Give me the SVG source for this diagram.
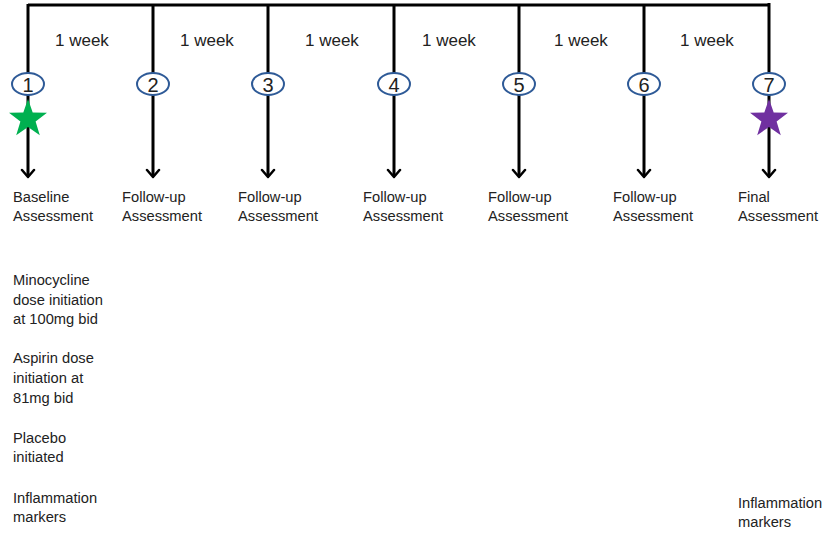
<svg xmlns="http://www.w3.org/2000/svg" width="822" height="535" viewBox="0 0 822 535">
<defs>
<style>
.ln{stroke:#000;stroke-width:3;fill:none}
.ah{stroke:#000;stroke-width:2.5;fill:none;stroke-linecap:round;stroke-linejoin:round}
.el{fill:#fff;stroke:#2E5A97;stroke-width:2}
.num{font-family:"Liberation Sans",Arial,sans-serif;font-size:20px;fill:#222;text-anchor:middle}
.wk{font-family:"Liberation Sans",Arial,sans-serif;font-size:17px;fill:#222}
.lb{font-family:"Liberation Sans",Arial,sans-serif;font-size:14.7px;fill:#222}
</style>
<polygon id="star" points="0,-20 4.7,-6.5 19,-6.2 7.6,2.5 11.8,16.2 0,8 -11.8,16.2 -7.6,2.5 -19,-6.2 -4.7,-6.5"/>
</defs>
<g id="connectors">
<path class="ln" d="M28,5 H769"/>
<path class="ln" d="M28,4 V176 M153,4 V176 M268,4 V176 M394,4 V176 M519,4 V176 M644,4 V176 M769,3 V176"/>
<path class="ah" d="M22,170 L28,177 L34,170 M147,170 L153,177 L159,170 M262,170 L268,177 L274,170 M388,170 L394,177 L400,170 M513,170 L519,177 L525,170 M638,170 L644,177 L650,170 M763,170 L769,177 L775,170"/>
</g>
<g id="weeks">
<text class="wk" x="55" y="46">1 week</text>
<text class="wk" x="180" y="46">1 week</text>
<text class="wk" x="305" y="46">1 week</text>
<text class="wk" x="422" y="46">1 week</text>
<text class="wk" x="554" y="46">1 week</text>
<text class="wk" x="680" y="46">1 week</text>
</g>
<g id="n1"><ellipse class="el" cx="28" cy="84" rx="16" ry="11"/><text class="num" x="28" y="92">1</text><use href="#star" x="28" y="119" fill="#00B050"/><text class="lb" x="13" y="202">Baseline</text><text class="lb" x="13" y="221">Assessment</text></g>
<g id="n2"><ellipse class="el" cx="153" cy="84" rx="16" ry="11"/><text class="num" x="153" y="92">2</text><text class="lb" x="122" y="202">Follow-up</text><text class="lb" x="122" y="221">Assessment</text></g>
<g id="n3"><ellipse class="el" cx="268" cy="84" rx="16" ry="11"/><text class="num" x="268" y="92">3</text><text class="lb" x="238" y="202">Follow-up</text><text class="lb" x="238" y="221">Assessment</text></g>
<g id="n4"><ellipse class="el" cx="394" cy="84" rx="16" ry="11"/><text class="num" x="394" y="92">4</text><text class="lb" x="363" y="202">Follow-up</text><text class="lb" x="363" y="221">Assessment</text></g>
<g id="n5"><ellipse class="el" cx="519" cy="84" rx="16" ry="11"/><text class="num" x="519" y="92">5</text><text class="lb" x="488" y="202">Follow-up</text><text class="lb" x="488" y="221">Assessment</text></g>
<g id="n6"><ellipse class="el" cx="644" cy="84" rx="16" ry="11"/><text class="num" x="644" y="92">6</text><text class="lb" x="613" y="202">Follow-up</text><text class="lb" x="613" y="221">Assessment</text></g>
<g id="n7"><ellipse class="el" cx="769" cy="84" rx="16" ry="11"/><text class="num" x="769" y="92">7</text><use href="#star" x="769" y="119" fill="#7030A0"/><text class="lb" x="738" y="202">Final</text><text class="lb" x="738" y="221">Assessment</text></g>
<g id="notes-left">
<text class="lb" x="13" y="285">Minocycline</text>
<text class="lb" x="13" y="305">dose initiation</text>
<text class="lb" x="13" y="324">at 100mg bid</text>
<text class="lb" x="13" y="363">Aspirin dose</text>
<text class="lb" x="13" y="383">initiation at</text>
<text class="lb" x="13" y="403">81mg bid</text>
<text class="lb" x="13" y="443">Placebo</text>
<text class="lb" x="13" y="462">initiated</text>
<text class="lb" x="13" y="503">Inflammation</text>
<text class="lb" x="13" y="522">markers</text>
</g>
<g id="notes-right">
<text class="lb" x="738" y="508">Inflammation</text>
<text class="lb" x="738" y="527">markers</text>
</g>
</svg>
